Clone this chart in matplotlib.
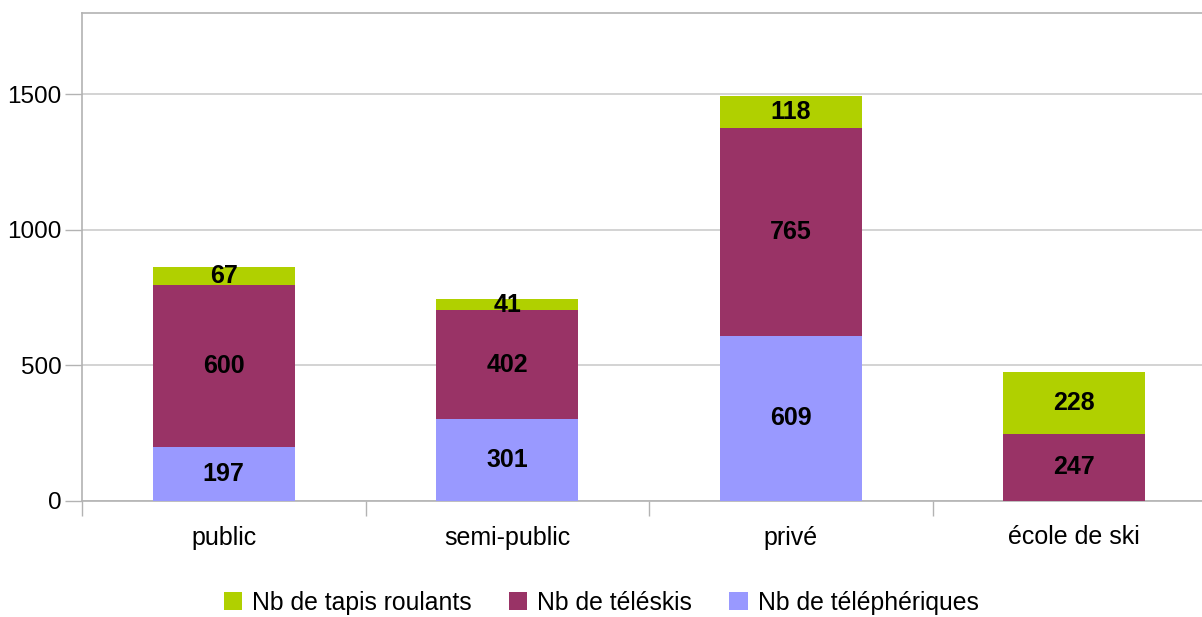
import matplotlib
matplotlib.use("Agg")
import matplotlib.pyplot as plt
import numpy as np

plt.rcParams['font.family'] = ['Liberation Sans', 'DejaVu Sans']

# données
categories = ["public", "semi-public", "privé", "école de ski"]
telepheriques = [197, 301, 609, 0]
teleskis = [600, 402, 765, 247]
tapis = [67, 41, 118, 228]

c_teleph = "#9999ff"
c_teleski = "#993366"
c_tapis = "#b0d000"
grey = "#b3b3b3"

W, H = 1202, 617
fig = plt.figure(figsize=(W / 100, H / 100), dpi=100)
# zone du graphique en pixels : gauche 82, droite 1216, haut 13, bas 500
ax = fig.add_axes([82 / W, 1 - 500.5 / H, (1216 - 82) / W, (500.5 - 13) / H])

x = np.arange(len(categories))
bw = 0.5
b1 = ax.bar(x, telepheriques, bw, color=c_teleph, label="Nb de téléphériques", zorder=3)
b2 = ax.bar(x, teleskis, bw, bottom=telepheriques, color=c_teleski,
            label="Nb de téléskis", zorder=3)
bottom3 = [a + b for a, b in zip(telepheriques, teleskis)]
b3 = ax.bar(x, tapis, bw, bottom=bottom3, color=c_tapis,
            label="Nb de tapis roulants", zorder=3)

# étiquettes de valeurs
for bars, vals in ((b1, telepheriques), (b2, teleskis), (b3, tapis)):
    for rect, v in zip(bars, vals):
        if v == 0:
            continue
        ax.text(rect.get_x() + rect.get_width() / 2, rect.get_y() + v / 2, str(v),
                ha="center", va="center", fontsize=18, fontweight="bold",
                color="black", zorder=4)

ax.set_xlim(-0.5, len(categories) - 0.5)
ax.set_ylim(0, 1800)
ax.set_yticks([0, 500, 1000, 1500])
ax.yaxis.grid(True, color="#cccccc", linewidth=1.2, zorder=0)
ax.tick_params(axis="y", direction="out", length=12, width=1, color=grey,
               labelsize=17.5, pad=2.5)

ax.set_xticks(x)
ax.set_xticklabels(categories, fontsize=18)
ax.set_xticks(np.arange(-0.5, len(categories), 1), minor=True)
ax.tick_params(axis="x", which="major", length=0, pad=18)
ax.tick_params(axis="x", which="minor", direction="out", length=11, width=1, color=grey)

ax.spines["right"].set_visible(False)
for s in ["left", "bottom", "top"]:
    ax.spines[s].set_color(grey)
    ax.spines[s].set_linewidth(1.2)

handles = [b3, b2, b1]
fig.legend(handles, [h.get_label() for h in handles], loc="center",
           bbox_to_anchor=(0.5, 1 - 603 / H), ncol=3, frameon=False,
           fontsize=17.8, handlelength=0.75, handleheight=0.75, handletextpad=0.4,
           columnspacing=1.5)

fig.savefig("out.png", dpi=100)
